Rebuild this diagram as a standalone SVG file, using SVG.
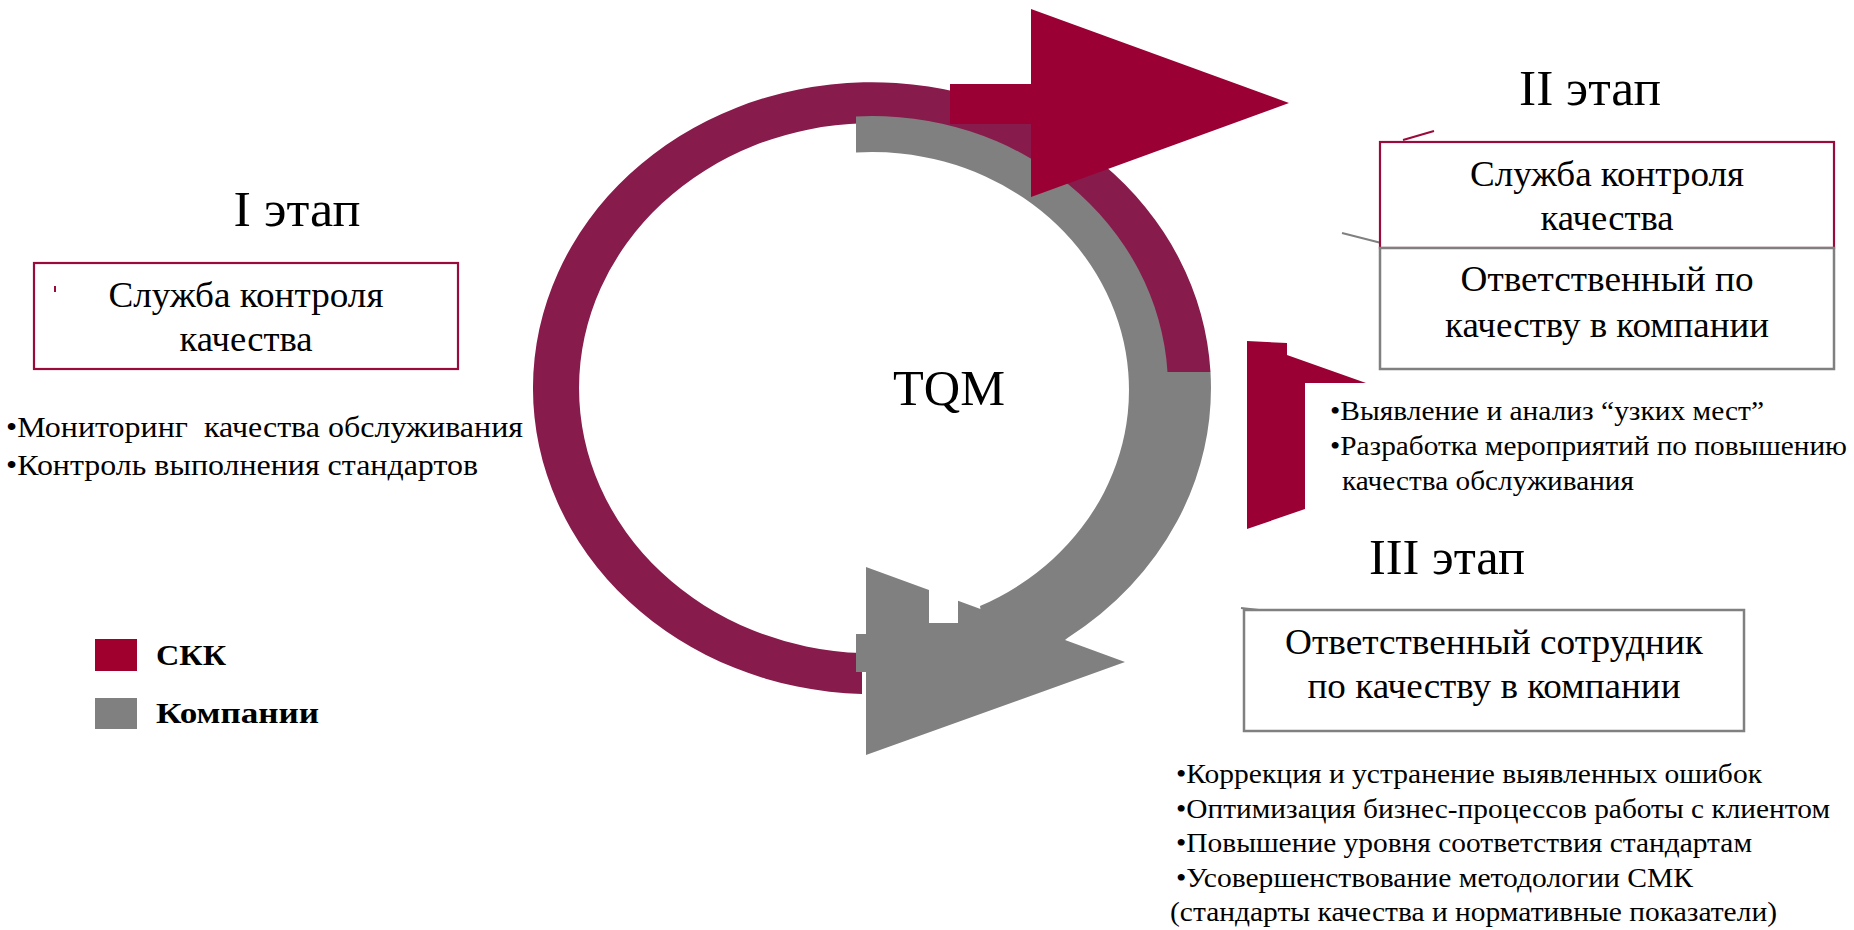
<svg xmlns="http://www.w3.org/2000/svg" width="1854" height="930" viewBox="0 0 1854 930">
<style>
.t{font-family:"Liberation Serif","Times New Roman","DejaVu Serif",serif;fill:#000}
.h{font-size:50px}
.bx{font-size:35px}
.bl{font-size:29px}
.lg{font-size:30px;font-weight:bold}
.rbox{fill:#fff;stroke:#9B0A3C;stroke-width:2.2}
.gbox{fill:#fff;stroke:#808080;stroke-width:2.5}
.mag{fill:#871B4B}
.red{fill:#9A0034}
.gray{fill:#808080}
</style>
<rect width="1854" height="930" fill="#fff"/>
<g id="connectors">
  <path class="mag" d="M 862 694 A 339 306 0 1 1 1210.5 372 L 1164.5 372 A 293 265 0 1 0 862 653 Z"/>
  <path class="gray" d="M 856 116.4 A 296 272 0 0 1 1167.5 372 L 1210.5 372 A 339 306 0 0 1 1067.5 638 L 1040 660 L 985 640 L 980 606 A 257 238 0 0 0 856 152.5 Z"/>
  <rect class="gray" x="856" y="634" width="12" height="38"/>
  <polygon class="gray" points="866,567 929,590.1 929,623 958,623 958,600.7 1125,662 866,755"/>
  <rect class="red" x="950" y="84" width="82" height="40"/>
  <polygon class="red" points="1031,9 1289,103 1031,197"/>
  <polygon class="red" points="1247,341 1287,343 1287,355 1366,383 1305,383 1305,509 1247,529"/>
  <line x1="1403" y1="140" x2="1434" y2="131" stroke="#9B0A3C" stroke-width="2"/>
  <line x1="1342" y1="233" x2="1401" y2="248" stroke="#808080" stroke-width="2"/>
  <line x1="1241" y1="608" x2="1268" y2="611" stroke="#808080" stroke-width="2"/>
</g>
<g id="node-tqm">
  <text class="t" x="949" y="405" text-anchor="middle" font-size="50" textLength="112" lengthAdjust="spacingAndGlyphs">TQM</text>
</g>
<g id="node-stage1">
  <text class="t h" x="297" y="226" text-anchor="middle" textLength="127" lengthAdjust="spacingAndGlyphs">I этап</text>
  <rect class="rbox" x="34" y="263" width="424" height="106"/>
  <line x1="55" y1="286" x2="55" y2="292" stroke="#9B0A3C" stroke-width="2"/>
  <text class="t bx" x="246" y="307" text-anchor="middle" textLength="275" lengthAdjust="spacingAndGlyphs">Служба контроля</text>
  <text class="t bx" x="246" y="351" text-anchor="middle" textLength="133" lengthAdjust="spacingAndGlyphs">качества</text>
  <text class="t bl" x="6" y="437" textLength="517" lengthAdjust="spacingAndGlyphs" xml:space="preserve">•Мониторинг  качества обслуживания</text>
  <text class="t bl" x="6" y="475" textLength="472" lengthAdjust="spacingAndGlyphs">•Контроль выполнения стандартов</text>
</g>
<g id="node-stage2">
  <text class="t h" x="1590" y="105" text-anchor="middle" textLength="142" lengthAdjust="spacingAndGlyphs">II этап</text>
  <rect class="rbox" x="1380" y="142" width="454" height="106"/>
  <rect class="gbox" x="1380" y="248" width="454" height="121"/>
  <text class="t bx" x="1607" y="186" text-anchor="middle" textLength="274" lengthAdjust="spacingAndGlyphs">Служба контроля</text>
  <text class="t bx" x="1607" y="230" text-anchor="middle" textLength="133" lengthAdjust="spacingAndGlyphs">качества</text>
  <text class="t bx" x="1607" y="291" text-anchor="middle" textLength="293" lengthAdjust="spacingAndGlyphs">Ответственный по</text>
  <text class="t bx" x="1607" y="337" text-anchor="middle" textLength="324" lengthAdjust="spacingAndGlyphs">качеству в компании</text>
  <text class="t" font-size="27" x="1330" y="420" textLength="434" lengthAdjust="spacingAndGlyphs">•Выявление и анализ “узких мест”</text>
  <text class="t" font-size="27" x="1330" y="455" textLength="517" lengthAdjust="spacingAndGlyphs">•Разработка мероприятий по повышению</text>
  <text class="t" font-size="27" x="1342" y="490" textLength="292" lengthAdjust="spacingAndGlyphs">качества обслуживания</text>
</g>
<g id="node-stage3">
  <text class="t h" x="1447" y="574" text-anchor="middle" textLength="156" lengthAdjust="spacingAndGlyphs">III этап</text>
  <rect class="gbox" x="1244" y="610" width="500" height="121"/>
  <text class="t bx" x="1494" y="654" text-anchor="middle" textLength="418" lengthAdjust="spacingAndGlyphs">Ответственный сотрудник</text>
  <text class="t bx" x="1494" y="698" text-anchor="middle" textLength="373" lengthAdjust="spacingAndGlyphs">по качеству в компании</text>
  <text class="t" font-size="28" x="1176" y="783" textLength="586" lengthAdjust="spacingAndGlyphs">•Коррекция и устранение выявленных ошибок</text>
  <text class="t" font-size="28" x="1176" y="818" textLength="654" lengthAdjust="spacingAndGlyphs">•Оптимизация бизнес-процессов работы с клиентом</text>
  <text class="t" font-size="28" x="1176" y="852" textLength="576" lengthAdjust="spacingAndGlyphs">•Повышение уровня соответствия стандартам</text>
  <text class="t" font-size="28" x="1176" y="887" textLength="517" lengthAdjust="spacingAndGlyphs">•Усовершенствование методологии СМК</text>
  <text class="t" font-size="28" x="1170" y="921" textLength="607" lengthAdjust="spacingAndGlyphs">(стандарты качества и нормативные показатели)</text>
</g>
<g id="legend">
  <rect x="95" y="639" width="42" height="32" fill="#A0002E"/>
  <rect x="95" y="698" width="42" height="31" fill="#808080"/>
  <text class="t lg" x="156" y="665" textLength="70" lengthAdjust="spacingAndGlyphs">СКК</text>
  <text class="t lg" x="156" y="723" textLength="163" lengthAdjust="spacingAndGlyphs">Компании</text>
</g>
</svg>
